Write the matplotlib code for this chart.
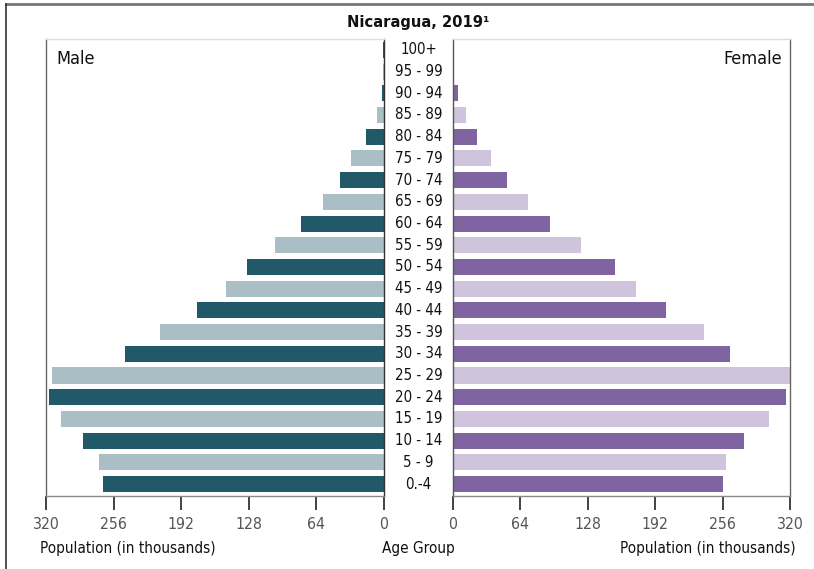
import matplotlib
matplotlib.use("Agg")
import matplotlib.pyplot as plt
from matplotlib.lines import Line2D
from matplotlib import font_manager

age_groups = ["0.-4", "5 - 9", "10 - 14", "15 - 19", "20 - 24", "25 - 29", "30 - 34",
              "35 - 39", "40 - 44", "45 - 49", "50 - 54", "55 - 59", "60 - 64",
              "65 - 69", "70 - 74", "75 - 79", "80 - 84", "85 - 89", "90 - 94",
              "95 - 99", "100+"]
male = [266, 270, 285, 306, 317, 314, 245, 212, 177, 150, 130, 103, 79,
        58, 42, 31, 17.5, 7, 2.3, 0.8, 1.3]
female = [256, 259, 276, 300, 316, 320, 263, 238, 202, 174, 154, 122, 92.5,
          71.6, 51.6, 36.4, 23, 12.7, 5.1, 1, 1.3]
ticks = [0, 64, 128, 192, 256, 320]

male_dark, male_light = "#215968", "#a9bec5"
fem_dark, fem_light = "#8064a2", "#d0c3dc"

has_cond = any(f.name == "DejaVu Sans" and str(f.stretch) in ("condensed", "semi-condensed")
               for f in font_manager.fontManager.ttflist)
plt.rcParams['font.family'] = ["DejaVu Sans"]
if has_cond:
    plt.rcParams['font.stretch'] = 'condensed'
    SC = 1.0
else:
    plt.rcParams['font.family'] = ["Liberation Sans", "DejaVu Sans"]
    SC = 0.95

fig = plt.figure(figsize=(8.14, 5.69), dpi=100)
W, H = 814, 569
def fx(p): return p / W
def fy(p): return 1 - p / H

top, bot = 39, 496
axL = fig.add_axes([fx(46), fy(bot), fx(384 - 46), (bot - top) / H])
axR = fig.add_axes([fx(453), fy(bot), fx(790 - 453), (bot - top) / H])

y = list(range(len(age_groups)))
mcol = [male_dark if i % 2 == 0 else male_light for i in y]
fcol = [fem_dark if i % 2 == 0 else fem_light for i in y]

axL.barh(y, male, height=0.74, color=mcol)
axR.barh(y, female, height=0.74, color=fcol)

axL.set_xlim(320, 0)
axR.set_xlim(0, 320)
for ax in (axL, axR):
    ax.set_ylim(-0.55, 20.5)
    ax.set_yticks([])
    ax.set_xticks(ticks)
    ax.set_xticklabels([str(t) for t in ticks])
    ax.tick_params(axis='x', direction='out', length=10, width=1.2, color='#222222',
                   labelsize=11.3 * SC, labelcolor='#555555', pad=5)
    ax.spines['top'].set_color('#dddddd')
    ax.spines['bottom'].set_color('#888888')
    ax.spines['left'].set_color('#666666')
    ax.spines['right'].set_color('#666666')
    for s in ax.spines.values():
        s.set_linewidth(1.0)
axL.spines['right'].set_color('#333333')
axR.spines['left'].set_color('#555555')

axL.text(0.03, 0.975, "Male", transform=axL.transAxes, ha='left', va='top', fontsize=13 * SC, color='#111111')
axR.text(0.975, 0.975, "Female", transform=axR.transAxes, ha='right', va='top', fontsize=13 * SC, color='#111111')

xmid = fx(418.5)
for i, lab in enumerate(age_groups):
    yd = axL.transData.transform((0, i))[1]
    yf = fig.transFigure.inverted().transform((0, yd))[1]
    fig.text(xmid, yf, lab, ha='center', va='center', fontsize=10.8 * SC, color='#111111')

fig.text(fx(418.5), fy(22), "Nicaragua, 2019\u00b9", ha='center', va='center',
         fontsize=11.8 * SC, fontweight='bold', color='#111111')

fig.text(fx(40), fy(549), "Population (in thousands)", ha='left', va='center', fontsize=11 * SC, color='#111111')
fig.text(fx(796), fy(549), "Population (in thousands)", ha='right', va='center', fontsize=11 * SC, color='#111111')
fig.text(fx(418.5), fy(549), "Age Group", ha='center', va='center', fontsize=11 * SC, color='#111111')

fig.add_artist(Line2D([fx(6), 1.0], [fy(4), fy(4)], transform=fig.transFigure, color='#777777', lw=2))
fig.add_artist(Line2D([fx(6), fx(6)], [fy(4), 0.0], transform=fig.transFigure, color='#333333', lw=1.2))

fig.savefig("out.png", dpi=100)
